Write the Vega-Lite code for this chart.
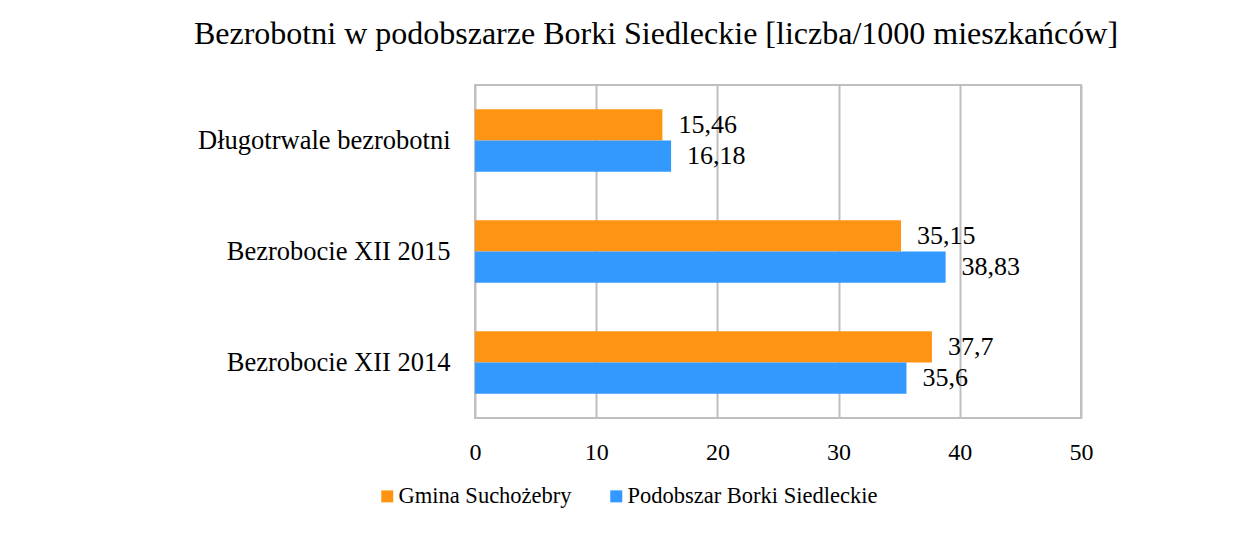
{
  "$schema": "https://vega.github.io/schema/vega-lite/v6.json",
  "width": 606,
  "height": 333,
  "autosize": {"type": "none"},
  "padding": {"left": 475, "top": 85, "right": 156, "bottom": 116},
  "background": "white",
  "title": {
    "text": "Bezrobotni w podobszarze Borki Siedleckie [liczba/1000 mieszkańców]",
    "font": "Liberation Serif",
    "fontSize": 32,
    "fontWeight": "normal",
    "color": "black",
    "anchor": "middle",
    "baseline": "alphabetic",
    "dx": -122,
    "offset": 9
  },
  "data": {
    "values": [
      {"cat": "Długotrwale bezrobotni", "series": "Gmina Suchożebry", "v": 15.46, "label": "15,46"},
      {"cat": "Długotrwale bezrobotni", "series": "Podobszar Borki Siedleckie", "v": 16.18, "label": "16,18"},
      {"cat": "Bezrobocie XII 2015", "series": "Gmina Suchożebry", "v": 35.15, "label": "35,15"},
      {"cat": "Bezrobocie XII 2015", "series": "Podobszar Borki Siedleckie", "v": 38.83, "label": "38,83"},
      {"cat": "Bezrobocie XII 2014", "series": "Gmina Suchożebry", "v": 37.7, "label": "37,7"},
      {"cat": "Bezrobocie XII 2014", "series": "Podobszar Borki Siedleckie", "v": 35.6, "label": "35,6"}
    ]
  },
  "encoding": {
    "y": {
      "field": "cat",
      "type": "nominal",
      "sort": ["Długotrwale bezrobotni", "Bezrobocie XII 2015", "Bezrobocie XII 2014"],
      "scale": {"paddingInner": 0.435, "paddingOuter": 0.2175},
      "axis": {
        "title": null,
        "ticks": false,
        "domain": false,
        "labelFont": "Liberation Serif",
        "labelFontSize": 26.5,
        "labelColor": "black",
        "labelPadding": 25,
        "labelLimit": 400
      }
    },
    "yOffset": {
      "field": "series",
      "type": "nominal",
      "sort": ["Gmina Suchożebry", "Podobszar Borki Siedleckie"],
      "scale": {"paddingInner": 0, "paddingOuter": 0}
    },
    "x": {
      "field": "v",
      "type": "quantitative",
      "scale": {"domain": [0, 50], "nice": false},
      "axis": {
        "title": null,
        "values": [0, 10, 20, 30, 40, 50],
        "ticks": false,
        "domain": false,
        "grid": true,
        "gridColor": "#BFBFBF",
        "gridWidth": 2,
        "labelFont": "Liberation Serif",
        "labelFontSize": 24,
        "labelColor": "black",
        "labelPadding": 22,
        "labelFlush": false
      }
    }
  },
  "layer": [
    {
      "mark": {"type": "bar"},
      "encoding": {
        "color": {
          "field": "series",
          "type": "nominal",
          "sort": ["Gmina Suchożebry", "Podobszar Borki Siedleckie"],
          "scale": {"range": ["#FF9412", "#3399FF"]},
          "legend": {
            "title": null,
            "orient": "none",
            "direction": "horizontal",
            "legendX": -99,
            "legendY": 400,
            "symbolType": "square",
            "symbolSize": 144,
            "symbolStrokeWidth": 0,
            "labelFont": "Liberation Serif",
            "labelFontSize": 22.5,
            "labelColor": "black",
            "labelOffset": 0,
            "columnPadding": 33,
            "labelLimit": 400
          }
        }
      }
    },
    {
      "mark": {
        "type": "text",
        "align": "left",
        "baseline": "middle",
        "dx": 16,
        "font": "Liberation Serif",
        "fontSize": 26,
        "color": "black"
      },
      "encoding": {
        "text": {"field": "label", "type": "nominal"}
      }
    }
  ],
  "config": {
    "font": "Liberation Serif",
    "view": {"stroke": "#BFBFBF", "strokeWidth": 2}
  }
}
